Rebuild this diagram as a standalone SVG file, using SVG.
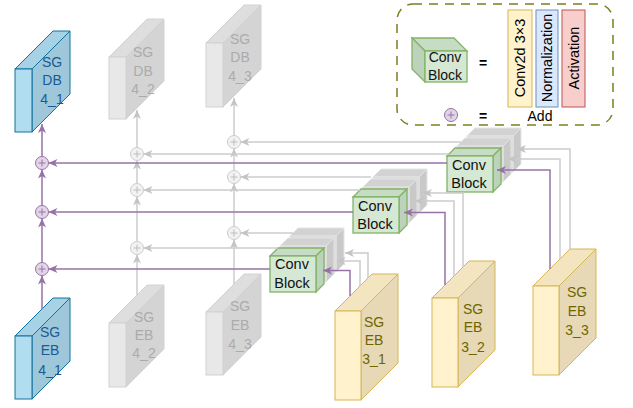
<svg xmlns="http://www.w3.org/2000/svg" width="633" height="408" viewBox="0 0 633 408">
<style>
text{font-family:"Liberation Sans",Arial,sans-serif;font-size:14px;text-anchor:middle}
.bf{fill:#b1ddf0;stroke:#10739e;stroke-width:1}
.bt{fill:#a7d1e4;stroke:#10739e;stroke-width:1}
.br{fill:#9fc7da;stroke:#10739e;stroke-width:1}
.btx{fill:#1a5a96}
.gf{fill:#e8e8e8;stroke:#d2d2d2;stroke-width:1}
.gt{fill:#dedede;stroke:#d2d2d2;stroke-width:1}
.gr{fill:#d4d4d4;stroke:#d2d2d2;stroke-width:1}
.gtx{fill:#ababab}
.yf{fill:#fff2cc;stroke:#d6b656;stroke-width:1}
.yt{fill:#f3e5c0;stroke:#d6b656;stroke-width:1}
.yr{fill:#e7d9b5;stroke:#d6b656;stroke-width:1}
.ytx{fill:#6f6500}
.cf{fill:#d5e8d4;stroke:#82b366;stroke-width:1.3}
.ct{fill:#c6dcc4;stroke:#82b366;stroke-width:1.3}
.cr{fill:#bcd2ba;stroke:#82b366;stroke-width:1.3}
.kf{fill:#d9d9d9;stroke:#e4e4e4;stroke-width:1}
.kt{fill:#d2d2d2;stroke:#e4e4e4;stroke-width:1}
.kr{fill:#c9c9c9;stroke:#e4e4e4;stroke-width:1}
.ctx{fill:#111111;font-size:14.5px}
.lp{fill:none;stroke:#9673a6;stroke-width:1.5;marker-end:url(#ap)}
.lg{fill:none;stroke:#cccccc;stroke-width:1.5;marker-end:url(#ag)}
.pp circle{fill:#e1d5e7;stroke:#9673a6;stroke-width:1}
.pp path{stroke:#9673a6;stroke-width:1}
.pg circle{fill:#f2f2f2;stroke:#cccccc;stroke-width:1}
.pg path{stroke:#bdbdbd;stroke-width:1}
</style>
<defs>
<marker id="ap" viewBox="-10 -5 10 10" refX="0" refY="0" markerWidth="10" markerHeight="10" markerUnits="userSpaceOnUse" orient="auto"><path d="M0,0 L-9,-4 L-6.5,0 L-9,4 Z" fill="#9673a6"/></marker>
<marker id="ag" viewBox="-10 -5 10 10" refX="0" refY="0" markerWidth="10" markerHeight="10" markerUnits="userSpaceOnUse" orient="auto"><path d="M0,0 L-9,-4 L-6.5,0 L-9,4 Z" fill="#c4c4c4"/></marker>
</defs>

<!-- Legend -->
<g id="legend">
<rect x="397" y="4" width="216" height="121" rx="16" fill="none" stroke="#7d7d1f" stroke-width="1.5" stroke-dasharray="9 7"/>
<g id="legend-conv">
<polygon class="ct" points="425,51 467,51 454,38 412,38"/>
<polygon class="cr" points="425,51 412,38 412,69 425,82"/>
<rect class="cf" x="425" y="51" width="42" height="31"/>
<text class="ctx" x="445" y="62" style="font-size:14px">Conv</text>
<text class="ctx" x="445" y="80" style="font-size:14px">Block</text>
</g>
<text x="483" y="68" style="font-weight:bold">=</text>
<g id="legend-conv2d"><rect x="508" y="10" width="24" height="97" fill="#fff2cc" stroke="#d6b656"/>
<text transform="translate(520,58) rotate(-90)" y="5" style="font-size:14.5px">Conv2d 3×3</text></g>
<g id="legend-norm"><rect x="536" y="10" width="22" height="97" fill="#dae8fc" stroke="#6c8ebf"/>
<text transform="translate(547,58) rotate(-90)" y="5" style="font-size:14.5px">Normalization</text></g>
<g id="legend-act"><rect x="562" y="10" width="23" height="97" fill="#f8cecc" stroke="#b85450"/>
<text transform="translate(573.5,58) rotate(-90)" y="5" style="font-size:14.5px">Activation</text></g>
<g class="pp" id="legend-plus"><circle cx="451" cy="115" r="6.5"/><path d="M447.5,115 H454.5 M451,111.5 V118.5"/></g>
<text x="483" y="121" style="font-weight:bold">=</text>
<text x="540" y="121">Add</text>
</g>

<!-- SG DB 4_1 -->
<g id="sg-db-4-1">
<polygon class="bt" points="15,69 32,69 70,31 53,31"/>
<polygon class="br" points="32,69 70,31 70,94 32,132"/>
<rect class="bf" x="15" y="69" width="17" height="63"/>
<text class="btx" x="52" y="67">SG</text><text class="btx" x="52" y="85">DB</text><text class="btx" x="52" y="104">4_1</text>
</g>
<!-- SG EB 4_1 -->
<g id="sg-eb-4-1">
<polygon class="bt" points="15,336 32,336 70,298 53,298"/>
<polygon class="br" points="32,336 70,298 70,361 32,399"/>
<rect class="bf" x="15" y="336" width="17" height="63"/>
<text class="btx" x="50" y="337">SG</text><text class="btx" x="50" y="355">EB</text><text class="btx" x="50" y="375">4_1</text>
</g>
<!-- gray DB/EB -->
<g id="sg-db-4-2">
<polygon class="gt" points="109,57 126,57 164,19 147,19"/>
<polygon class="gr" points="126,57 164,19 164,81 126,119"/>
<rect class="gf" x="109" y="57" width="17" height="62"/>
<text class="gtx" x="143" y="57">SG</text><text class="gtx" x="143" y="76">DB</text><text class="gtx" x="143" y="94">4_2</text>
</g>
<g id="sg-db-4-3">
<polygon class="gt" points="206,43 223,43 261,5 244,5"/>
<polygon class="gr" points="223,43 261,5 261,69 223,107"/>
<rect class="gf" x="206" y="43" width="17" height="64"/>
<text class="gtx" x="240" y="44">SG</text><text class="gtx" x="240" y="62">DB</text><text class="gtx" x="240" y="81">4_3</text>
</g>
<g id="sg-eb-4-2">
<polygon class="gt" points="109,323 126,323 164,285 147,285"/>
<polygon class="gr" points="126,323 164,285 164,349 126,387"/>
<rect class="gf" x="109" y="323" width="17" height="64"/>
<text class="gtx" x="144" y="322">SG</text><text class="gtx" x="144" y="340">EB</text><text class="gtx" x="144" y="358">4_2</text>
</g>
<g id="sg-eb-4-3">
<polygon class="gt" points="206,312 223,312 261,274 244,274"/>
<polygon class="gr" points="223,312 261,274 261,337 223,375"/>
<rect class="gf" x="206" y="312" width="17" height="63"/>
<text class="gtx" x="240" y="311">SG</text><text class="gtx" x="240" y="330">EB</text><text class="gtx" x="240" y="349">4_3</text>
</g>
<!-- yellow EB 3 -->
<g id="sg-eb-3-1">
<polygon class="yt" points="335,311 361,311 398,274 372,274"/>
<polygon class="yr" points="361,311 398,274 398,363 361,400"/>
<rect class="yf" x="335" y="311" width="26" height="89"/>
<text class="ytx" x="374" y="327">SG</text><text class="ytx" x="374" y="345">EB</text><text class="ytx" x="374" y="364">3_1</text>
</g>
<g id="sg-eb-3-2">
<polygon class="yt" points="432,298 458,298 495,261 469,261"/>
<polygon class="yr" points="458,298 495,261 495,350 458,387"/>
<rect class="yf" x="432" y="298" width="26" height="89"/>
<text class="ytx" x="473" y="314">SG</text><text class="ytx" x="473" y="332">EB</text><text class="ytx" x="473" y="352">3_2</text>
</g>
<g id="sg-eb-3-3">
<polygon class="yt" points="533,286 559,286 596,249 570,249"/>
<polygon class="yr" points="559,286 596,249 596,338 559,375"/>
<rect class="yf" x="533" y="286" width="26" height="89"/>
<text class="ytx" x="577" y="297">SG</text><text class="ytx" x="577" y="316">EB</text><text class="ytx" x="577" y="335">3_3</text>
</g>

<!-- Conv block top -->
<g id="conv-block-1">
<polygon class="kt" points="467,136 513,136 521,128 475,128"/><polygon class="kr" points="513,136 521,128 521,164 513,172"/><rect class="kf" x="467" y="136" width="46" height="36"/>
<polygon class="kt" points="457,146 503,146 511,138 465,138"/><polygon class="kr" points="503,146 511,138 511,174 503,182"/><rect class="kf" x="457" y="146" width="46" height="36"/>
<polygon class="ct" points="447,156 493,156 501,148 455,148"/><polygon class="cr" points="493,156 501,148 501,184 493,192"/><rect class="cf" x="447" y="156" width="46" height="36"/>
<text class="ctx" x="469" y="170">Conv</text><text class="ctx" x="469" y="188">Block</text>
</g>
<g id="conv-block-2">
<polygon class="kt" points="373,177 419,177 427,169 381,169"/><polygon class="kr" points="419,177 427,169 427,205 419,213"/><rect class="kf" x="373" y="177" width="46" height="36"/>
<polygon class="kt" points="363,187 409,187 417,179 371,179"/><polygon class="kr" points="409,187 417,179 417,215 409,223"/><rect class="kf" x="363" y="187" width="46" height="36"/>
<polygon class="ct" points="353,197 399,197 407,189 361,189"/><polygon class="cr" points="399,197 407,189 407,225 399,233"/><rect class="cf" x="353" y="197" width="46" height="36"/>
<text class="ctx" x="375" y="211">Conv</text><text class="ctx" x="375" y="229">Block</text>
</g>
<g id="conv-block-3">
<polygon class="kt" points="290,236 336,236 344,228 298,228"/><polygon class="kr" points="336,236 344,228 344,264 336,272"/><rect class="kf" x="290" y="236" width="46" height="36"/>
<polygon class="kt" points="280,246 326,246 334,238 288,238"/><polygon class="kr" points="326,246 334,238 334,274 326,282"/><rect class="kf" x="280" y="246" width="46" height="36"/>
<polygon class="ct" points="270,256 316,256 324,248 278,248"/><polygon class="cr" points="316,256 324,248 324,284 316,292"/><rect class="cf" x="270" y="256" width="46" height="36"/>
<text class="ctx" x="292" y="269">Conv</text><text class="ctx" x="292" y="287.5">Block</text>
</g>

<!-- Connectors -->
<g id="connectors">
<path class="lg" d="M137,295 V254.5"/>
<path class="lg" d="M137,241.5 V196.5"/>
<path class="lg" d="M137,183.5 V160.5"/>
<path class="lg" d="M137,147.5 V110"/>
<path class="lg" d="M234,284 V239.5"/>
<path class="lg" d="M234,226.5 V183.5"/>
<path class="lg" d="M234,170.5 V148.5"/>
<path class="lg" d="M234,135.5 V98"/>
<path class="lg" d="M461,142 H240.5"/>
<path class="lg" d="M449,154 H143.5"/>
<path class="lg" d="M371,177 H240.5"/>
<path class="lg" d="M360,190 H143.5"/>
<path class="lg" d="M293,233 H240.5"/>
<path class="lg" d="M278,248 H143.5"/>
<path class="lg" d="M560,259 V159 H508"/>
<path class="lg" d="M570,249 V149 H517"/>
<path class="lg" d="M454,276 V201 H415"/>
<path class="lg" d="M463,267 V193 H423"/>
<path class="lg" d="M360,286 V261 H336.5"/>
<path class="lg" d="M368,278 V253 H345"/>
<path class="lp" d="M42,309 V275.5"/>
<path class="lp" d="M42,262.5 V218.5"/>
<path class="lp" d="M42,205.5 V169.5"/>
<path class="lp" d="M42,156.5 V124"/>
<path class="lp" d="M447,163 H48.5"/>
<path class="lp" d="M353,212 H48.5"/>
<path class="lp" d="M270,269 H48.5"/>
<path class="lp" d="M550,269 V170 H497"/>
<path class="lp" d="M445,285 V212.5 H404"/>
<path class="lp" d="M350,296 V270.5 H323"/>
</g>

<!-- Add nodes -->
<g id="add-p1" class="pp"><circle cx="42" cy="163" r="6.5"/><path d="M38.5,163 H45.5 M42,159.5 V166.5"/></g>
<g id="add-p2" class="pp"><circle cx="42" cy="212" r="6.5"/><path d="M38.5,212 H45.5 M42,208.5 V215.5"/></g>
<g id="add-p3" class="pp"><circle cx="42" cy="269" r="6.5"/><path d="M38.5,269 H45.5 M42,265.5 V272.5"/></g>
<g id="add-g1" class="pg"><circle cx="137" cy="154" r="6.5"/><path d="M133.5,154 H140.5 M137,150.5 V157.5"/></g>
<g id="add-g2" class="pg"><circle cx="137" cy="190" r="6.5"/><path d="M133.5,190 H140.5 M137,186.5 V193.5"/></g>
<g id="add-g3" class="pg"><circle cx="137" cy="248" r="6.5"/><path d="M133.5,248 H140.5 M137,244.5 V251.5"/></g>
<g id="add-g4" class="pg"><circle cx="234" cy="142" r="6.5"/><path d="M230.5,142 H237.5 M234,138.5 V145.5"/></g>
<g id="add-g5" class="pg"><circle cx="234" cy="177" r="6.5"/><path d="M230.5,177 H237.5 M234,173.5 V180.5"/></g>
<g id="add-g6" class="pg"><circle cx="234" cy="233" r="6.5"/><path d="M230.5,233 H237.5 M234,229.5 V236.5"/></g>
</svg>
